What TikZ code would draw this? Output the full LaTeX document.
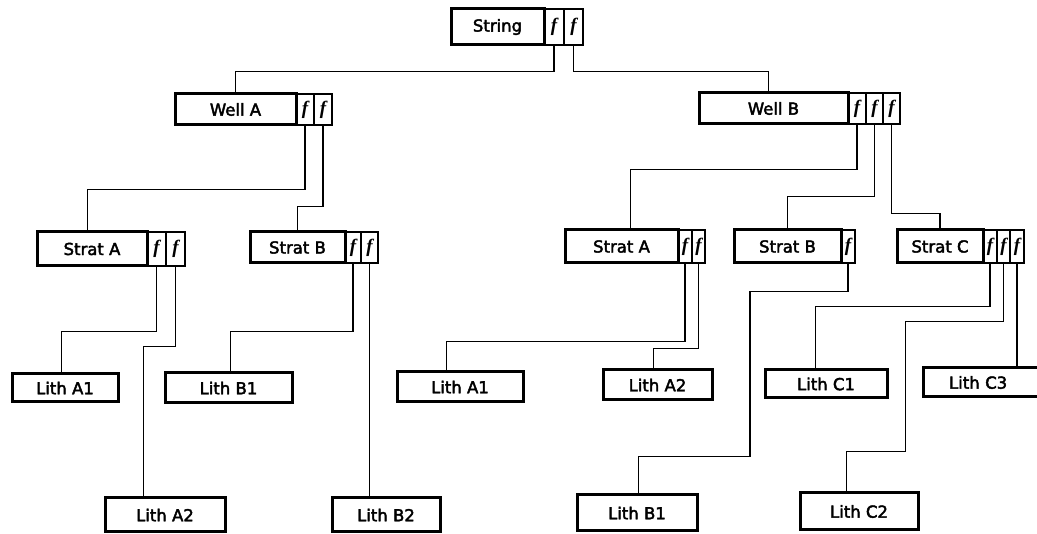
\documentclass[tikz,border=0pt]{standalone}
\usepackage{fontspec}
\setmainfont{DejaVu Sans}
\newfontfamily\lfont{DejaVu Sans}[FakeBold=2.5]
\newfontfamily\ffont{Liberation Serif}
\tikzset{
  lbox/.style={draw, line width=3pt, inner sep=0pt, font=\fontsize{16.5}{18}\selectfont\lfont, text=black},
  fcell/.style={draw, line width=2.8pt, inner sep=0pt, font=\fontsize{19}{18}\selectfont\ffont\bfseries\itshape},
  conn/.style={line width=1.5pt}
}
\newcommand\bx[7][]{\node[lbox, minimum width={#5-#3}, minimum height={#6-#4}, #1] (#2) at ({(#3+#5)/2},{(#4+#6)/2}) {#7};}
\newcommand\cl[5]{\node[fcell, minimum width={#4-#2}, minimum height={#5-#3}] (#1) at ({(#2+#4)/2},{(#3+#5)/2}) {f};}
\begin{document}
\begin{tikzpicture}[x=1pt, y=-1pt]
\useasboundingbox (0,0) rectangle (1037,534);
% String
\bx{S}{451}{9}{544}{45}{String}
\cl{S1}{544}{9}{564}{45}
\cl{S2}{564}{9}{583}{45}
% Well A
\bx{WA}{175}{94}{296}{125}{Well A}
\cl{WA1}{296}{94}{314}{125}
\cl{WA2}{314}{94}{332}{125}
% Well B
\bx{WB}{699}{93}{848}{124}{Well B}
\cl{WB1}{848}{93}{866}{124}
\cl{WB2}{866}{93}{883}{124}
\cl{WB3}{883}{93}{900}{124}
% Strat A (left)
\bx{SAL}{37}{232}{147}{266}{Strat A}
\cl{SAL1}{147}{232}{166}{266}
\cl{SAL2}{166}{232}{185}{266}
% Strat B (left)
\bx{SBL}{250}{232}{345}{263}{Strat B}
\cl{SBL1}{345}{232}{361}{263}
\cl{SBL2}{361}{232}{378}{263}
% Strat A (right)
\bx{SAR}{565}{230}{678}{263}{Strat A}
\cl{SAR1}{678}{230}{692}{263}
\cl{SAR2}{692}{230}{705}{263}
% Strat B (right)
\bx{SBR}{734}{230}{841}{263}{Strat B}
\cl{SBR1}{841}{230}{855}{263}
% Strat C
\bx{SC}{897}{230}{983}{263}{Strat C}
\cl{SC1}{983}{230}{997}{263}
\cl{SC2}{997}{230}{1010}{263}
\cl{SC3}{1010}{230}{1024}{263}
% Lith boxes
\bx{LA1L}{12}{374}{118}{402}{Lith A1}
\bx{LB1L}{165}{373}{292}{403}{Lith B1}
\bx{LA2L}{105}{498}{225}{532}{Lith A2}
\bx{LB2L}{332}{498}{440}{532}{Lith B2}
\bx{LA1R}{397}{372}{523}{402}{Lith A1}
\bx{LA2R}{603}{370}{712}{400}{Lith A2}
\bx{LB1R}{577}{495}{697}{531}{Lith B1}
\bx{LC1}{765}{370}{887}{398}{Lith C1}
\bx{LC2}{800}{493}{918}{530}{Lith C2}
\bx[text width=96pt, align=left]{LC3}{923}{368}{1047}{397}{\hspace*{12pt}Lith C3}
% connectors
\draw[conn] (S1.south) -- ++(0,25) -| (WA.north);
\draw[conn] (S2.south) -- ++(0,25) -| ([xshift=71pt]WB.north west);
\draw[conn] (WA1.south) -- ++(0,63) -| ([xshift=52pt]SAL.north west);
\draw[conn] (WA2.south) -- ++(0,80) -| (SBL.north);
\draw[conn] (WB1.south) -- ++(0,44) -| ([xshift=67pt]SAR.north west);
\draw[conn] (WB2.south) -- ++(0,71) -| (SBR.north);
\draw[conn] (WB3.south) -- ++(0,88) -| (SC.north);
\draw[conn] (SAL1.south) -- ++(0,64) -| ([xshift=51pt]LA1L.north west);
\draw[conn] (SAL2.south) -- ++(0,79) -| ([xshift=40pt]LA2L.north west);
\draw[conn] (SBL1.south) -- ++(0,67) -| ([xshift=67pt]LB1L.north west);
\draw[conn] (SBL2.south) -- (SBL2.south |- LB2L.north);
\draw[conn] (SAR1.south) -- ++(0,77) -| ([xshift=51pt]LA1R.north west);
\draw[conn] (SAR2.south) -- ++(0,84) -| ([xshift=52pt]LA2R.north west);
\draw[conn] (SBR1.south) -- ++(0,27) -- ++(-98,0) -- ++(0,165) -| ([xshift=63pt]LB1R.north west);
\draw[conn] (SC1.south) -- ++(0,42) -| ([xshift=52pt]LC1.north west);
\draw[conn] (SC2.south) -- ++(0,57) -- ++(-98,0) -- ++(0,130) -| ([xshift=48pt]LC2.north west);
\draw[conn] (SC3.south) -- (SC3.south |- LC3.north);
\end{tikzpicture}
\end{document}
